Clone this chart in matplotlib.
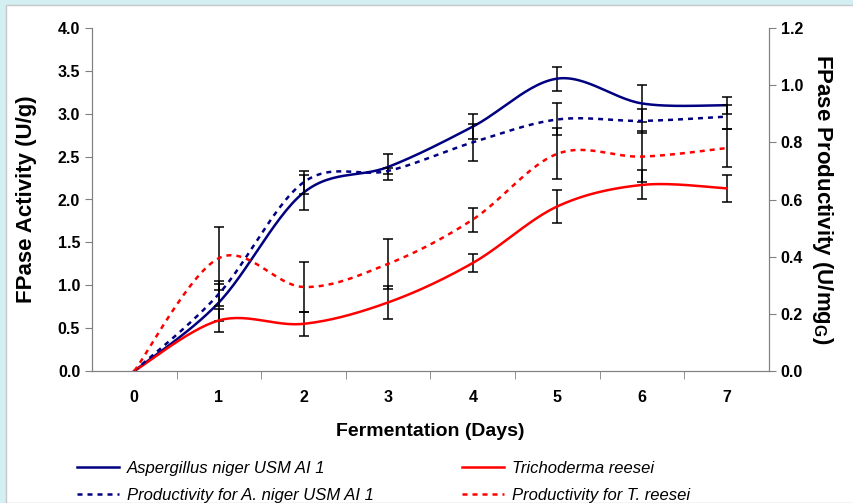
import numpy as np
import matplotlib
matplotlib.use("Agg")
import matplotlib.pyplot as plt
from matplotlib.lines import Line2D
from matplotlib.patches import Rectangle

plt.rcParams["font.family"] = ["Liberation Sans", "DejaVu Sans"]
plt.rcParams["mathtext.fontset"] = "custom"
plt.rcParams["mathtext.rm"] = "Liberation Sans:bold"

# data
days = [0, 1, 2, 3, 4, 5, 6, 7]
asp = [0, 0.80, 2.08, 2.38, 2.85, 3.41, 3.12, 3.10]
asp_err = [0, 0.22, 0.20, 0.15, 0.15, 0.14, 0.22, 0.10]
tri = [0, 0.59, 0.55, 0.80, 1.26, 1.92, 2.17, 2.13]
tri_err = [0, 0.13, 0.14, 0.19, 0.10, 0.19, 0.17, 0.16]
prod_asp = [0, 0.27, 0.66, 0.70, 0.80, 0.88, 0.875, 0.89]
prod_asp_err = [0, 0.044, 0.04, 0.01, 0.065, 0.056, 0.042, 0.042]
prod_tri = [0, 0.395, 0.294, 0.375, 0.53, 0.76, 0.75, 0.78]
prod_tri_err = [0, 0.11, 0.086, 0.088, 0.042, 0.09, 0.09, 0.065]

NAVY = "#000080"
RED = "#ff0000"


def smooth(x, y, n=30):
    # excel-style smoothed line (catmull-rom through the points)
    x = np.asarray(x, float)
    y = np.asarray(y, float)
    px = np.concatenate([[x[0]], x, [x[-1]]])
    py = np.concatenate([[y[0]], y, [y[-1]]])
    t = np.linspace(0, 1, n)
    xs, ys = [], []
    for i in range(1, len(px) - 2):
        for p, out in ((px, xs), (py, ys)):
            p0, p1, p2, p3 = p[i - 1], p[i], p[i + 1], p[i + 2]
            out.extend(0.5 * (2 * p1 + (-p0 + p2) * t
                              + (2 * p0 - 5 * p1 + 4 * p2 - p3) * t ** 2
                              + (-p0 + 3 * p1 - 3 * p2 + p3) * t ** 3))
    return xs, ys


fig = plt.figure(figsize=(8.54, 5.03), dpi=100, facecolor="#d3eff2")
fig.add_artist(Rectangle((6 / 854, 0), 1, 1 - 5 / 503, transform=fig.transFigure,
                         facecolor="white", edgecolor="#c8c8c8", lw=1, zorder=-10))

ax = fig.add_axes([92 / 854, 1 - 371 / 503, (769 - 92) / 854, (371 - 28) / 503])
ax.set_facecolor("none")
ax2 = ax.twinx()

err_kw = dict(fmt="none", ecolor="black", elinewidth=1.1, capsize=3.5, capthick=1.1, zorder=3)

ax.plot(*smooth(days, asp), color=NAVY, lw=1.8, zorder=4)
ax.errorbar(days[1:], asp[1:], yerr=asp_err[1:], **err_kw)
ax.plot(*smooth(days, tri), color=RED, lw=1.8, zorder=4)
ax.errorbar(days[1:], tri[1:], yerr=tri_err[1:], **err_kw)

ax2.plot(*smooth(days, prod_asp), color=NAVY, lw=1.8, ls=(0, (2, 2)), zorder=4)
ax2.errorbar(days[1:], prod_asp[1:], yerr=prod_asp_err[1:], **err_kw)
ax2.plot(*smooth(days, prod_tri), color=RED, lw=1.8, ls=(0, (2, 2)), zorder=4)
ax2.errorbar(days[1:], prod_tri[1:], yerr=prod_tri_err[1:], **err_kw)

ax.set_xlim(-0.5, 7.5)
ax.set_ylim(0, 4.0)
ax2.set_ylim(0, 1.2)
ax.set_yticks(np.arange(0, 4.01, 0.5))
ax2.set_yticks(np.arange(0, 1.21, 0.2))
ax.yaxis.set_major_formatter(matplotlib.ticker.FormatStrFormatter("%.1f"))
ax2.yaxis.set_major_formatter(matplotlib.ticker.FormatStrFormatter("%.1f"))
ax.set_xticks(days)
ax.set_xticks(np.arange(0.5, 7, 1), minor=True)
ax.tick_params(axis="x", which="major", length=0, pad=14)
ax.tick_params(axis="x", which="minor", length=6, color="#808080", direction="out")
ax.tick_params(axis="y", length=5, color="#808080", direction="out")
ax2.tick_params(axis="y", length=5, color="#808080", direction="out")

for a in (ax, ax2):
    a.spines["top"].set_visible(False)
    for s in ("left", "right", "bottom"):
        a.spines[s].set_color("#808080")
    for lab in a.get_xticklabels() + a.get_yticklabels():
        lab.set_fontsize(11.5)
        lab.set_fontweight("bold")

ax.set_xlabel("Fermentation (Days)", fontsize=14, fontweight="bold", labelpad=13)
ax.set_ylabel("FPase Activity (U/g)", fontsize=16, fontweight="bold", labelpad=15)
ax2.set_ylabel("FPase Productivity (U/mg$_{\\mathrm{G}}$)", fontsize=16, fontweight="bold",
               rotation=270, labelpad=23)

handles = [
    Line2D([], [], color=NAVY, lw=1.8),
    Line2D([], [], color=NAVY, lw=1.8, ls=(0, (2, 2))),
    Line2D([], [], color=RED, lw=1.8),
    Line2D([], [], color=RED, lw=1.8, ls=(0, (2, 2))),
]
labels = [
    "Aspergillus niger USM AI 1",
    "Productivity for A. niger USM AI 1",
    "Trichoderma reesei",
    "Productivity for T. reesei",
]
fig.legend(handles, labels, loc="lower left", bbox_to_anchor=(62 / 854, -0.03), ncol=2,
           frameon=False, prop={"style": "italic", "size": 12}, handlelength=2.5,
           handletextpad=0.5, columnspacing=5.3, labelspacing=0.75)

plt.savefig("out.png", dpi=100, facecolor=fig.get_facecolor())
